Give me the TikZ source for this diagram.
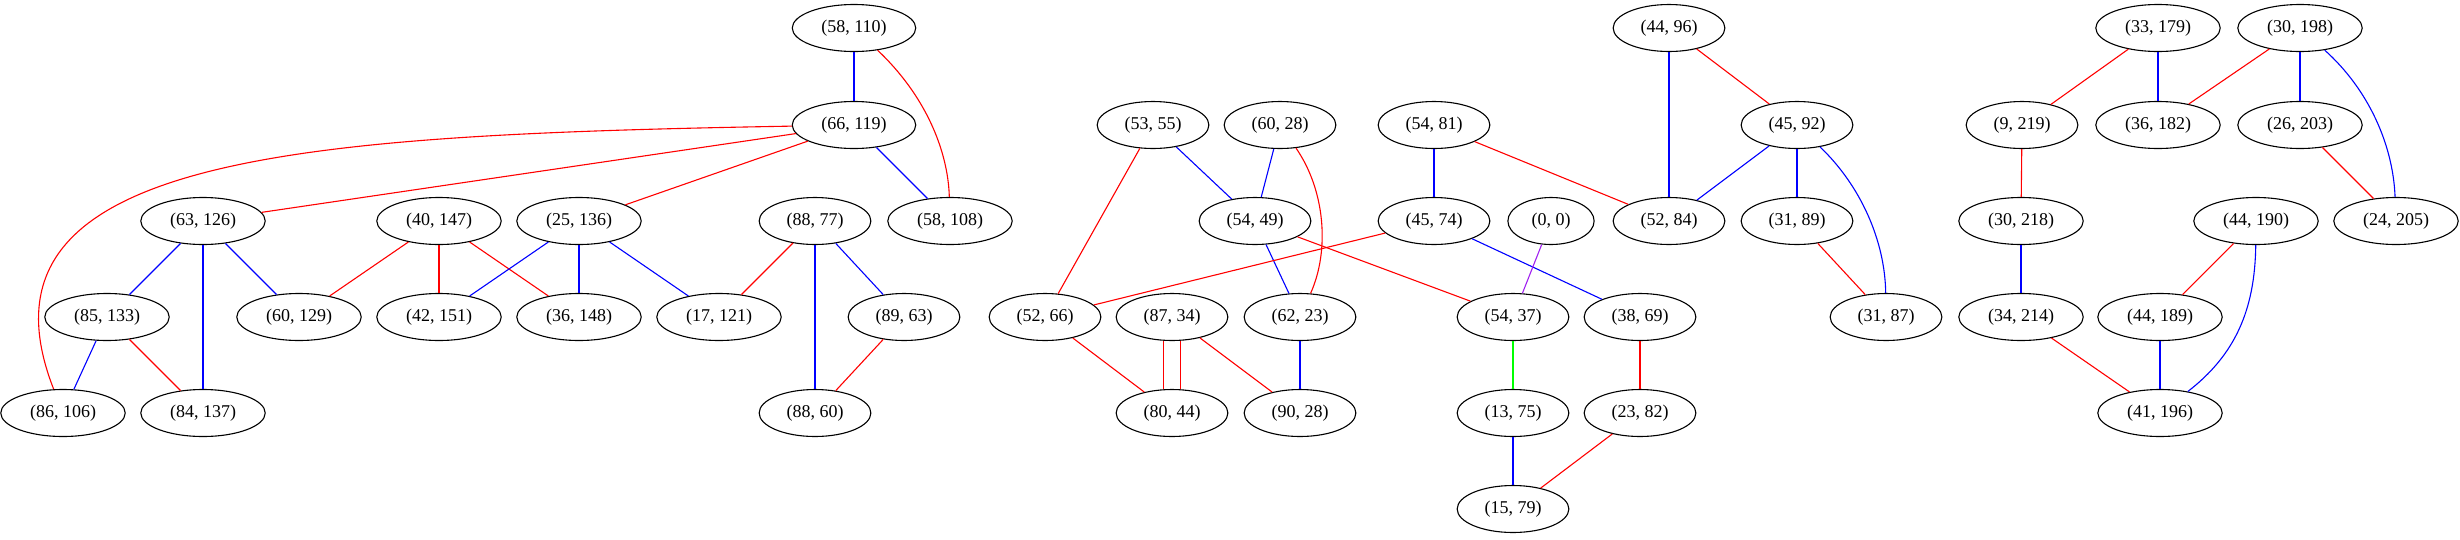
\documentclass[tikz,border=0pt]{standalone}
\usepackage{fontspec}
\setmainfont{Liberation Serif}
\usetikzlibrary{shapes.geometric}
\definecolor{gvred}{RGB}{255,0,0}
\definecolor{gvblue}{RGB}{0,0,255}
\definecolor{gvgreen}{RGB}{0,255,0}
\definecolor{gvpurple}{RGB}{160,32,240}
\begin{document}
\begin{tikzpicture}[x=1pt,y=1pt,
  nd/.style={ellipse,draw,line width=1.1pt,inner xsep=11pt,inner ysep=3pt,minimum height=47pt,font=\fontsize{18}{20}\selectfont},
  ed/.style={line width=1.1pt},
  R/.style={ed,draw=gvred},
  B/.style={ed,draw=gvblue},
  G/.style={ed,draw=gvgreen},
  P/.style={ed,draw=gvpurple}]
\useasboundingbox (0,0) rectangle (2460,-539);
\def\ra{-28}\def\rb{-125}\def\rc{-221}\def\rd{-317}\def\re{-413}\def\rf{-509}
% left component
\node[nd] (n58x110) at (854,\ra) {(58, 110)};
\node[nd] (n66x119) at (854,\rb) {(66, 119)};
\node[nd] (n63x126) at (203,\rc) {(63, 126)};
\node[nd] (n40x147) at (439,\rc) {(40, 147)};
\node[nd] (n25x136) at (579,\rc) {(25, 136)};
\node[nd] (n88x77) at (815,\rc) {(88, 77)};
\node[nd] (n58x108) at (950,\rc) {(58, 108)};
\node[nd] (n85x133) at (107,\rd) {(85, 133)};
\node[nd] (n60x129) at (299,\rd) {(60, 129)};
\node[nd] (n42x151) at (439,\rd) {(42, 151)};
\node[nd] (n36x148) at (579,\rd) {(36, 148)};
\node[nd] (n17x121) at (719,\rd) {(17, 121)};
\node[nd] (n89x63) at (904,\rd) {(89, 63)};
\node[nd] (n86x106) at (63,\re) {(86, 106)};
\node[nd] (n84x137) at (203,\re) {(84, 137)};
\node[nd] (n88x60) at (815,\re) {(88, 60)};
% middle component
\node[nd] (n53x55) at (1153,\rb) {(53, 55)};
\node[nd] (n60x28) at (1280,\rb) {(60, 28)};
\node[nd] (n54x81) at (1434,\rb) {(54, 81)};
\node[nd] (n54x49) at (1255,\rc) {(54, 49)};
\node[nd] (n45x74) at (1434,\rc) {(45, 74)};
\node[nd] (n0x0) at (1551,\rc) {(0, 0)};
\node[nd] (n52x66) at (1045,\rd) {(52, 66)};
\node[nd] (n87x34) at (1172,\rd) {(87, 34)};
\node[nd] (n62x23) at (1300,\rd) {(62, 23)};
\node[nd] (n54x37) at (1513,\rd) {(54, 37)};
\node[nd] (n38x69) at (1640,\rd) {(38, 69)};
\node[nd] (n80x44) at (1172,\re) {(80, 44)};
\node[nd] (n90x28) at (1300,\re) {(90, 28)};
\node[nd] (n13x75) at (1513,\re) {(13, 75)};
\node[nd] (n23x82) at (1640,\re) {(23, 82)};
\node[nd] (n15x79) at (1513,\rf) {(15, 79)};
\node[nd] (n44x96) at (1669,\ra) {(44, 96)};
\node[nd] (n45x92) at (1797,\rb) {(45, 92)};
\node[nd] (n52x84) at (1669,\rc) {(52, 84)};
\node[nd] (n31x89) at (1797,\rc) {(31, 89)};
\node[nd] (n31x87) at (1886,\rd) {(31, 87)};
% right component
\node[nd] (n33x179) at (2158,\ra) {(33, 179)};
\node[nd] (n30x198) at (2300,\ra) {(30, 198)};
\node[nd] (n9x219) at (2022,\rb) {(9, 219)};
\node[nd] (n36x182) at (2158,\rb) {(36, 182)};
\node[nd] (n26x203) at (2300,\rb) {(26, 203)};
\node[nd] (n30x218) at (2021,\rc) {(30, 218)};
\node[nd] (n44x190) at (2256,\rc) {(44, 190)};
\node[nd] (n24x205) at (2396,\rc) {(24, 205)};
\node[nd] (n34x214) at (2021,\rd) {(34, 214)};
\node[nd] (n44x189) at (2160,\rd) {(44, 189)};
\node[nd] (n41x196) at (2160,\re) {(41, 196)};
% edges left
\draw[B] (n58x110) -- (n66x119);
\draw[R] (n58x110) .. controls (925,-95) and (948,-150) .. (n58x108);
\draw[R] (n66x119) .. controls (296,-135) and (-38,-155) .. (n86x106);
\draw[R] (n66x119) -- (n63x126);
\draw[R] (n66x119) -- (n25x136);
\draw[B] (n66x119) -- (n58x108);
\draw[B] (n63x126) -- (n85x133);
\draw[B] (n63x126) -- (n84x137);
\draw[B] (n63x126) -- (n60x129);
\draw[B] (n85x133) -- (n86x106);
\draw[R] (n85x133) -- (n84x137);
\draw[R] (n40x147) -- (n60x129);
\draw[R] (n40x147) -- (n42x151);
\draw[R] (n40x147) -- (n36x148);
\draw[B] (n25x136) -- (n42x151);
\draw[B] (n25x136) -- (n36x148);
\draw[B] (n25x136) -- (n17x121);
\draw[R] (n88x77) -- (n17x121);
\draw[B] (n88x77) -- (n88x60);
\draw[B] (n88x77) -- (n89x63);
\draw[R] (n89x63) -- (n88x60);
% edges middle
\draw[R] (n53x55) -- (n52x66);
\draw[B] (n53x55) -- (n54x49);
\draw[B] (n60x28) -- (n54x49);
\draw[R] (n60x28) .. controls (1325,-190) and (1330,-250) .. (n62x23);
\draw[B] (n54x49) -- (n62x23);
\draw[R] (n54x49) -- (n54x37);
\draw[B] (n54x81) -- (n45x74);
\draw[R] (n54x81) -- (n52x84);
\draw[R] (n45x74) -- (n52x66);
\draw[B] (n45x74) -- (n38x69);
\draw[P] (n0x0) -- (n54x37);
\draw[R] (n52x66) -- (n80x44);
\draw[R] ([xshift=-8.5pt]n87x34.south) -- ([xshift=-8.5pt]n80x44.north);
\draw[R] ([xshift=8.5pt]n87x34.south) -- ([xshift=8.5pt]n80x44.north);
\draw[R] (n87x34) -- (n90x28);
\draw[B] (n62x23) -- (n90x28);
\draw[G] (n54x37) -- (n13x75);
\draw[B] (n13x75) -- (n15x79);
\draw[R] (n38x69) -- (n23x82);
\draw[R] (n23x82) -- (n15x79);
\draw[B] (n44x96) -- (n52x84);
\draw[R] (n44x96) -- (n45x92);
\draw[B] (n45x92) -- (n52x84);
\draw[B] (n45x92) -- (n31x89);
\draw[B] (n45x92) .. controls (1860,-185) and (1885,-240) .. (n31x87);
\draw[R] (n31x89) -- (n31x87);
% edges right
\draw[R] (n33x179) -- (n9x219);
\draw[B] (n33x179) -- (n36x182);
\draw[R] (n30x198) -- (n36x182);
\draw[B] (n30x198) -- (n26x203);
\draw[B] (n30x198) .. controls (2368,-89) and (2393,-144) .. (n24x205);
\draw[R] (n26x203) -- (n24x205);
\draw[R] (n9x219) -- (n30x218);
\draw[B] (n30x218) -- (n34x214);
\draw[R] (n34x214) -- (n41x196);
\draw[R] (n44x190) -- (n44x189);
\draw[B] (n44x190) .. controls (2255,-310) and (2235,-355) .. (n41x196);
\draw[B] (n44x189) -- (n41x196);
\end{tikzpicture}
\end{document}
